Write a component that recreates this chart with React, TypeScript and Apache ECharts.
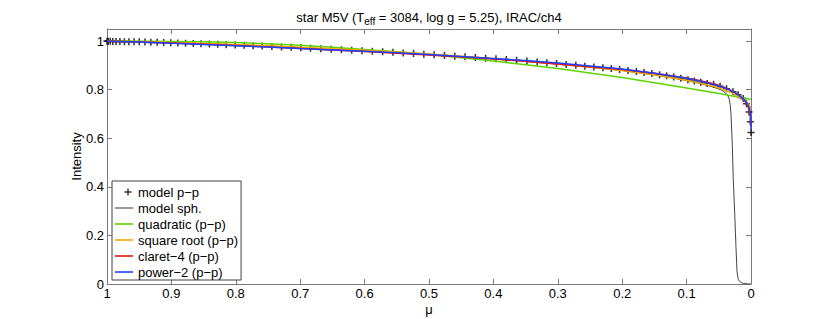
import React, { useEffect, useRef } from "react";
import * as echarts from "echarts";

const FONT = "'Liberation Sans', Arial, Helvetica, sans-serif";

// model p-p (markers)
const MU_PP = [1.000,0.998,0.995,0.991,0.986,0.980,0.973,0.966,0.958,0.950,0.941,0.932,0.922,0.912,0.901,0.890,0.878,0.866,0.854,0.841,0.828,0.815,0.801,0.787,0.773,0.759,0.744,0.729,0.714,0.699,0.684,0.668,0.652,0.636,0.620,0.604,0.588,0.572,0.556,0.540,0.524,0.508,0.492,0.476,0.460,0.444,0.428,0.412,0.396,0.380,0.364,0.348,0.332,0.317,0.302,0.287,0.272,0.258,0.244,0.230,0.217,0.204,0.191,0.178,0.166,0.154,0.142,0.131,0.120,0.109,0.098,0.088,0.078,0.068,0.058,0.048,0.038,0.028,0.020,0.012,0.007,0.003,0.001,0.000];
const I_PP = [1.000,1.000,1.000,0.999,0.999,0.999,0.998,0.998,0.997,0.997,0.996,0.995,0.995,0.994,0.993,0.992,0.991,0.990,0.989,0.988,0.987,0.985,0.984,0.983,0.981,0.980,0.978,0.976,0.975,0.973,0.971,0.969,0.967,0.965,0.963,0.960,0.958,0.956,0.954,0.951,0.949,0.946,0.944,0.941,0.938,0.936,0.933,0.930,0.927,0.924,0.921,0.918,0.914,0.911,0.908,0.904,0.901,0.897,0.894,0.890,0.887,0.883,0.879,0.875,0.871,0.867,0.862,0.857,0.852,0.847,0.841,0.836,0.831,0.826,0.821,0.814,0.804,0.792,0.779,0.764,0.742,0.708,0.668,0.624];

// model spherical
const MU_SPH = [1,0.9,0.8,0.7,0.6,0.5,0.4,0.3,0.2,0.15,0.1,0.08,0.06,0.05,0.045,0.04,0.037,0.035,0.0337,0.0325,0.0311,0.029,0.0275,0.0253,0.0233,0.0217,0.0197,0.016,0.012,0.006,0];
const I_SPH = [1.000,0.993,0.984,0.973,0.960,0.944,0.927,0.905,0.879,0.861,0.838,0.826,0.812,0.803,0.797,0.788,0.779,0.770,0.760,0.740,0.705,0.57,0.43,0.29,0.15,0.05,0.018,0.007,0.002,0.0005,0];

// quadratic fit
const MU_QUAD = [1,0.95,0.9,0.85,0.8,0.75,0.7,0.65,0.6,0.55,0.5,0.45,0.4,0.35,0.3,0.25,0.2,0.15,0.1,0.05,0.02,0];
const I_QUAD = [1.000,1.000,0.999,0.997,0.994,0.989,0.983,0.975,0.966,0.956,0.945,0.932,0.918,0.903,0.887,0.869,0.850,0.829,0.807,0.784,0.770,0.760];

// square root & claret-4 fits
const MU_LAW = [1,0.95,0.9,0.85,0.8,0.75,0.7,0.65,0.6,0.55,0.5,0.45,0.4,0.35,0.3,0.25,0.2,0.15,0.1,0.08,0.06,0.05,0.04,0.03,0.02,0.01,0.005,0.002,0.001,0];
const I_SQRT = [1.000,0.997,0.994,0.990,0.986,0.981,0.975,0.969,0.962,0.955,0.947,0.938,0.929,0.918,0.906,0.893,0.879,0.862,0.839,0.828,0.815,0.807,0.798,0.787,0.772,0.756,0.745,0.733,0.728,0.720];
const I_CL4 = [1.000,0.996,0.992,0.987,0.982,0.976,0.970,0.964,0.957,0.950,0.943,0.935,0.926,0.917,0.906,0.895,0.883,0.868,0.848,0.838,0.826,0.818,0.808,0.796,0.780,0.755,0.733,0.705,0.688,0.650];

// power-2 fit
const MU_POW = [1,0.95,0.9,0.85,0.8,0.75,0.7,0.65,0.6,0.55,0.5,0.45,0.4,0.35,0.3,0.25,0.2,0.15,0.1,0.08,0.06,0.05,0.04,0.03,0.02,0.01,0.005,0.002,0.001,0.0002,0];
const I_POW = [1.000,0.996,0.991,0.986,0.981,0.976,0.970,0.964,0.958,0.952,0.945,0.937,0.929,0.920,0.910,0.898,0.885,0.868,0.847,0.836,0.823,0.815,0.806,0.795,0.780,0.758,0.739,0.719,0.707,0.684,0.635];

const X_TICKS = [0, 0.1, 0.2, 0.3, 0.4, 0.5, 0.6, 0.7, 0.8, 0.9, 1];
const Y_TICKS = [0, 0.2, 0.4, 0.6, 0.8, 1];

const NAMES = ["model p\u2212p", "model sph.", "quadratic (p\u2212p)", "square root (p\u2212p)", "claret\u22124 (p\u2212p)", "power\u22122 (p\u2212p)"];
const COLORS = ["#000000", "#303030", "#5fd400", "#f2a900", "#e81010", "#2040ff"];

const CROSS = "path://M3.9,0H6.1V3.9H10V6.1H6.1V10H3.9V6.1H0V3.9H3.9Z";
const CROSS_ICON = "path://M0,0M18,8M12.3,0.5H13.7V3.3H16.5V4.7H13.7V7.5H12.3V4.7H9.5V3.3H12.3Z";
const BAR_ICON = "path://M0,0M18,8M0,3.2H18V4.8H0Z";
const THIN_ICON = "path://M0,0M18,8M0,3.5H18V4.5H0Z";

const zip = (a: number[], b: number[]) => a.map((m, i) => [m, b[i]]);

const AXIS_COLOR = "#7a7a7a";

export default function App() {
  const ref = useRef<HTMLDivElement>(null);
  useEffect(() => {
    document.body.style.margin = "0";
    if (!ref.current) return;
    const chart = echarts.init(ref.current, undefined, { renderer: "svg" });
    const near = (v: number, arr: number[]) => arr.some((t) => Math.abs(t - v) < 1e-6);
    const axisCommon = {
      type: "value" as const,
      axisLine: { show: true, onZero: false, lineStyle: { color: AXIS_COLOR, width: 1 } },
      axisTick: { show: true, inside: true, length: 5, lineStyle: { color: AXIS_COLOR, width: 1 } },
      splitLine: { show: false },
    };
    const lineSeries = (name: string, mu: number[], iv: number[], color: string, width: number) => ({
      type: "line",
      name,
      data: zip(mu, iv),
      symbol: "none",
      showSymbol: false,
      smooth: false,
      lineStyle: { color, width },
      itemStyle: { color },
      emphasis: { disabled: true },
    });
    chart.setOption({
      animation: false,
      grid: { left: 107, right: 79, top: 29, bottom: 35, containLabel: false, outerBoundsMode: "none" },
      xAxis: [
        {
          ...axisCommon,
          position: "bottom",
          min: 0,
          max: 1,
          interval: 0.1,
          inverse: true,
          name: "\u03bc",
          nameLocation: "middle",
          nameGap: 19,
          nameMoveOverlap: false,
          nameTextStyle: { color: "#000", fontSize: 13, fontFamily: FONT, lineHeight: 12 },
          axisLabel: {
            color: "#000",
            fontSize: 13,
            fontFamily: FONT,
            lineHeight: 12,
            margin: 3,
            formatter: (v: number) => (near(v, X_TICKS) ? String(Math.round(v * 10) / 10) : ""),
          },
        },
        {
          ...axisCommon,
          position: "top",
          min: 0,
          max: 1,
          interval: 0.1,
          inverse: true,
          axisLabel: { show: false },
        },
      ],
      yAxis: [
        {
          ...axisCommon,
          position: "left",
          min: 0,
          max: 1.05,
          interval: 0.2,
          name: "Intensity",
          nameLocation: "middle",
          nameGap: 24,
          nameMoveOverlap: false,
          nameRotate: 90,
          nameTextStyle: { color: "#000", fontSize: 13, fontFamily: FONT },
          axisLabel: {
            color: "#000",
            fontSize: 13,
            fontFamily: FONT,
            margin: 3,
            showMaxLabel: false,
            formatter: (v: number) => (near(v, Y_TICKS) ? String(Math.round(v * 10) / 10) : ""),
          },
        },
        {
          ...axisCommon,
          position: "right",
          min: 0,
          max: 1.05,
          interval: 0.2,
          axisLabel: { show: false },
        },
      ],
      legend: {
        orient: "vertical",
        left: 112,
        top: 181,
        itemWidth: 18,
        itemHeight: 8,
        itemGap: 0,
        padding: [3, 3, 0, 3],
        borderColor: "#404040",
        borderWidth: 1,
        borderRadius: 0,
        backgroundColor: "#ffffff",
        selectedMode: false,
        textStyle: { color: "#000", fontSize: 13, fontFamily: FONT, lineHeight: 16 },
        data: [
          { name: NAMES[0], icon: CROSS_ICON },
          { name: NAMES[1], icon: THIN_ICON },
          { name: NAMES[2], icon: BAR_ICON },
          { name: NAMES[3], icon: BAR_ICON },
          { name: NAMES[4], icon: BAR_ICON },
          { name: NAMES[5], icon: BAR_ICON },
        ],
      },
      graphic: [
        {
          type: "text",
          x: 429,
          y: 17,
          style: {
            text: "{a|star M5V (T}{s|eff}{a| = 3084, log g = 5.25), IRAC/ch4}",
            align: "center",
            verticalAlign: "middle",
            fill: "#000",
            rich: {
              a: { fontSize: 13, fontFamily: FONT, fill: "#000", lineHeight: 18, verticalAlign: "middle" },
              s: { fontSize: 10, fontFamily: FONT, fill: "#000", lineHeight: 10, verticalAlign: "bottom" },
            },
          },
        },
      ],
      series: [
        {
          type: "scatter",
          name: NAMES[0],
          data: zip(MU_PP, I_PP),
          symbol: CROSS,
          symbolSize: 7,
          clip: false,
          itemStyle: { color: COLORS[0] },
          emphasis: { disabled: true },
        },
        lineSeries(NAMES[1], MU_SPH, I_SPH, COLORS[1], 0.9),
        lineSeries(NAMES[2], MU_QUAD, I_QUAD, COLORS[2], 1.5),
        lineSeries(NAMES[3], MU_LAW, I_SQRT, COLORS[3], 1.5),
        lineSeries(NAMES[4], MU_LAW, I_CL4, COLORS[4], 1.5),
        lineSeries(NAMES[5], MU_POW, I_POW, COLORS[5], 1.5),
      ],
    });
    return () => chart.dispose();
  }, []);
  return <div ref={ref} style={{ width: 830, height: 319 }} />;
}
